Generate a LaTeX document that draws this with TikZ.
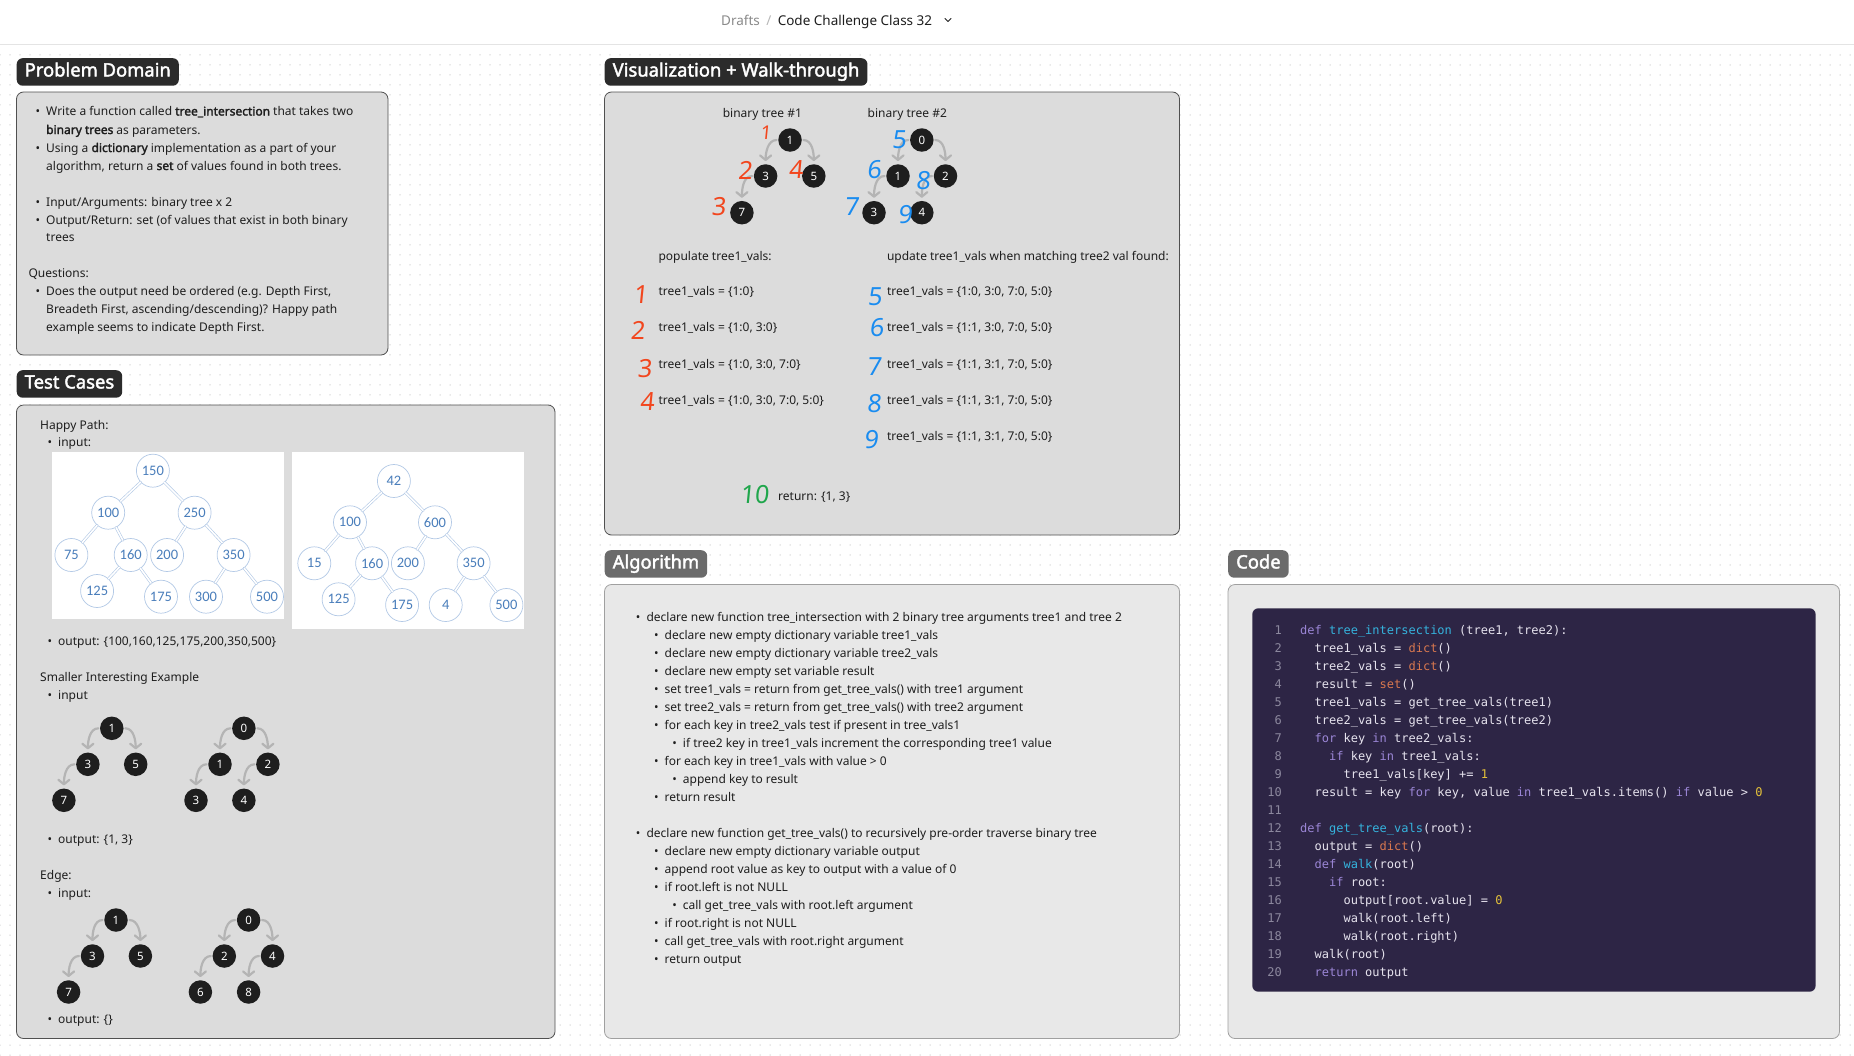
\documentclass[tikz,border=0pt]{standalone}
\usepackage{fontspec}
\setmainfont{Noto Sans}[BoldFont=Noto Sans, BoldFeatures={FakeBold=2.2}]
\setmonofont{DejaVu Sans Mono}
\newfontfamily\cctreefont{Carlito}
\newfontfamily\cchandfont[FakeSlant=0.1]{Noto Sans}
\usetikzlibrary{arrows.meta,patterns.meta,positioning}
\definecolor{ccInk}{HTML}{1E1E1E}
\definecolor{ccMuted}{HTML}{8A8A8A}
\definecolor{ccBar}{HTML}{E4E4E4}
\definecolor{ccDot}{HTML}{D4D4D4}
\definecolor{ccPanel}{HTML}{DCDCDC}
\definecolor{ccPanelLine}{HTML}{505050}
\definecolor{ccSoft}{HTML}{E8E8E8}
\definecolor{ccSoftLine}{HTML}{A0A0A0}
\definecolor{ccPill}{HTML}{2B2B2B}
\definecolor{ccPillSoft}{HTML}{6B6B6B}
\definecolor{ccArrow}{HTML}{B4B4B4}
\definecolor{ccNode}{HTML}{1E1E1E}
\definecolor{ccTreeLine}{HTML}{B3C9E6}
\definecolor{ccTreeText}{HTML}{4A7EBB}
\definecolor{ccRed}{HTML}{F2461E}
\definecolor{ccBlue}{HTML}{1A8CF0}
\definecolor{ccGreen}{HTML}{1FA64B}
\definecolor{ccCodeBg}{HTML}{2D2545}
\definecolor{ccCode}{HTML}{E6E3EE}
\definecolor{ccKey}{HTML}{9B86D6}
\definecolor{ccFun}{HTML}{35B3DD}
\definecolor{ccBuiltin}{HTML}{D9784F}
\definecolor{ccNum}{HTML}{E5C23A}
\definecolor{ccLineNo}{HTML}{8C889E}
\newcommand\ccbul{\llap{\textbullet\hspace{6pt}}}
\newcommand\cckw[1]{\textcolor{ccKey}{#1}}
\newcommand\ccfn[1]{\textcolor{ccFun}{#1}}
\newcommand\ccbi[1]{\textcolor{ccBuiltin}{#1}}
\newcommand\ccnum[1]{\textcolor{ccNum}{#1}}
\tikzset{
  cc board/.style={x=1pt, y=-1pt, font=\fontsize{12}{14}\selectfont, text=ccInk,
    line cap=round, line join=round},
  cc panel/.style={draw=ccPanelLine, fill=ccPanel, line width=0.8pt, rounded corners=7pt},
  cc soft panel/.style={cc panel, draw=ccSoftLine, fill=ccSoft},
  cc pill/.style={fill=ccPill, text=white, rounded corners=6pt, anchor=north west,
    font=\fontsize{18.4}{19}\selectfont\bfseries, text height=12.5pt, text depth=3.5pt,
    minimum height=27.5pt, inner xsep=8pt, inner ysep=0pt},
  cc soft pill/.style={cc pill, fill=ccPillSoft},
  cc text/.style={anchor=base west, inner sep=0pt},
  cc crumb/.style={cc text, font=\fontsize{13.5}{15}\selectfont},
  cc dot/.style={circle, fill=ccNode, text=white, minimum size=23.5pt, inner sep=0pt,
    font=\fontsize{11.5}{11.5}\selectfont},
  cc link/.style={draw=ccArrow, line width=2.2pt, shorten <=1.5pt, shorten >=3pt,
    -{Straight Barb[length=4.5pt,width=11pt,round]}},
  cc bst/.style={circle, draw=ccTreeLine, fill=white, line width=0.7pt, minimum size=33pt,
    inner sep=0pt, text=ccTreeText, font=\cctreefont\fontsize{14.5}{14.5}\selectfont},
  cc bst edge/.style={draw=ccTreeLine, double=white, double distance=1.6pt, line width=0.6pt},
  cc hand/.style={inner sep=0pt, font=\cchandfont\fontsize{25}{25}\selectfont},
  cc code/.style={anchor=base west, inner sep=0pt, text=ccCode,
    font=\ttfamily\fontsize{12}{12}\selectfont},
  cc lineno/.style={anchor=base east, inner sep=0pt, text=ccLineNo,
    font=\ttfamily\fontsize{12}{12}\selectfont}
}

\begin{document}
\begin{tikzpicture}[cc board]
\useasboundingbox (0,0) rectangle (1854,1055);
\fill[white] (0,0) rectangle (1854,1055);
\fill[pattern={Dots[distance=10pt,radius=0.75pt]}, pattern color=ccDot] (0,48) rectangle (1854,1055);
\draw[ccBar, line width=1pt] (0,44) -- (1854,44);

% breadcrumb
\node[cc crumb, text=ccMuted] (crumbA) at (721,25) {Drafts};
\node[cc crumb, text=ccBar!80!black, base right=6pt of crumbA] (crumbSep) {/};
\node[cc crumb, base right=6pt of crumbSep] (crumbB) {Code Challenge Class 32};
\coordinate (chev) at (948,20);
\draw[ccInk, line width=0.9pt] (chev) ++(-3,-1.5) -- ++(3,3) -- ++(3,-3);

% panels
\draw[cc panel] (16.5,92) rectangle (388,355);
\draw[cc panel] (16.5,405) rectangle (555,1038.5);
\draw[cc panel] (604.5,92) rectangle (1179.5,535);
\draw[cc soft panel] (604.5,584.5) rectangle (1179.5,1038.5);
\draw[cc soft panel] (1228,584.5) rectangle (1839.5,1038.5);

\node[cc pill] (pdHead) at (16.5,58) {Problem Domain};
\node[cc pill] (tcHead) at (16.5,370) {Test Cases};
\node[cc pill] (vzHead) at (604.5,58) {Visualization + Walk-through};
\node[cc soft pill] (alHead) at (604.5,550) {Algorithm};
\node[cc soft pill] (cdHead) at (1228,550) {Code};

% problem domain
\node[cc text] (pd1) at (46,115.5) {\ccbul Write a function called \textbf{tree\_intersection} that takes two};
\node[cc text] (pd2) at (46,134) {\textbf{binary trees} as parameters.};
\node[cc text] (pd3) at (46,152) {\ccbul Using a \textbf{dictionary} implementation as a part of your};
\node[cc text] (pd4) at (46,170) {algorithm, return a \textbf{set} of values found in both trees.};
\node[cc text] (pd5) at (46,206) {\ccbul Input/Arguments: binary tree x 2};
\node[cc text] (pd6) at (46,224) {\ccbul Output/Return: set (of values that exist in both binary};
\node[cc text] (pd7) at (46,241.5) {trees};
\node[cc text] (pd8) at (28.3,277.5) {Questions:};
\node[cc text] (pd9) at (46,295) {\ccbul Does the output need be ordered (e.g. Depth First,};
\node[cc text] (pd10) at (46,313.5) {Breadeth First, ascending/descending)? Happy path};
\node[cc text] (pd11) at (46,331) {example seems to indicate Depth First.};

% test cases
\node[cc text] (tcHappy) at (40,429) {Happy Path:};
\node[cc text] (tcIn1) at (58,446.5) {\ccbul input:};
\fill[white] (52,452) rectangle (284,619);
\fill[white] (292,452) rectangle (524,629);
\foreach \n/\x/\y in {150/152.9/470.7, 100/108.2/512.7, 250/194.6/512.7, 75/71.4/555,
    160/130.7/555, 200/167.1/555, 350/233.6/555, 125/97.1/591, 175/161/596.7,
    300/206/596.7, 500/267/596.7}
  \node[cc bst] (ha\n) at (\x,\y) {\n};
\foreach \n/\x/\y in {42/393.9/481, 100/350/522.3, 600/435/522.3, 15/314.3/563.3,
    160/372.1/563.3, 200/407.9/563.3, 350/473.6/563.3, 125/338.6/599.3, 175/402.1/605,
    4/445.7/605, 500/506.4/605}
  \node[cc bst] (hb\n) at (\x,\y) {\n};
\foreach \p/\c in {150/100, 150/250, 100/75, 100/160, 250/200, 250/350, 160/125, 160/175,
    350/300, 350/500}
  \draw[cc bst edge] (ha\p) -- (ha\c);
\foreach \p/\c in {42/100, 42/600, 100/15, 100/160, 600/200, 600/350, 160/125, 160/175,
    350/4, 350/500}
  \draw[cc bst edge] (hb\p) -- (hb\c);
\node[cc text] (tcOut1) at (58,645.5) {\ccbul output: \{100,160,125,175,200,350,500\}};
\node[cc text] (tcSmall) at (40,681.5) {Smaller Interesting Example};
\node[cc text] (tcIn2) at (58,699.5) {\ccbul input};
\node[cc text] (tcOut2) at (58,843.5) {\ccbul output: \{1, 3\}};
\node[cc text] (tcEdge) at (40,879.5) {Edge:};
\node[cc text] (tcIn3) at (58,897.5) {\ccbul input:};
\node[cc text] (tcOut3) at (58,1023.5) {\ccbul output: \{\}};

% small trees with curved links
\foreach \n/\v/\x/\y in {sa1/1/111.8/728.3, sa3/3/87.9/764.3, sa5/5/135.7/764.3, sa7/7/63.9/800.3,
    sb0/0/243.9/728.3, sb1/1/220/764.3, sb2/2/267.9/764.3, sb3/3/196/800.3, sb4/4/243.9/800.3,
    ea1/1/116/920, ea3/3/92.5/956, ea5/5/140.4/956, ea7/7/68.6/992,
    eb0/0/248.6/920, eb2/2/224.3/956, eb4/4/272.5/956, eb6/6/200.4/992, eb8/8/248.6/992,
    va1/1/790/140, va3/3/765.6/176, va5/5/813.8/176, va7/7/741.9/212.7,
    vb0/0/921.8/140, vb1/1/898/176, vb2/2/945.5/176, vb3/3/874/212.7, vb4/4/921.8/212.7}
  \node[cc dot] (\n) at (\x,\y) {\v};
\foreach \p/\c in {sa1/sa3, sa3/sa7, sb0/sb1, sb1/sb3, sb2/sb4, ea1/ea3, ea3/ea7, eb0/eb2,
    eb2/eb6, eb4/eb8, va1/va3, va3/va7, vb0/vb1, vb1/vb3, vb2/vb4}
  \draw[cc link] (\p.west) to[out=180,in=90] (\c.north);
\foreach \p/\c in {sa1/sa5, sb0/sb2, ea1/ea5, eb0/eb4, va1/va5, vb0/vb2}
  \draw[cc link] (\p.east) to[out=0,in=90] (\c.north);

% walk-through
\node[cc text, anchor=base] (vzT1) at (762.4,117.5) {binary tree \#1};
\node[cc text, anchor=base] (vzT2) at (907.3,117.5) {binary tree \#2};
\node[cc hand, text=ccRed, font=\cchandfont\fontsize{19}{19}\selectfont] (hr1) at (765.6,133) {1};
\node[cc hand, text=ccRed] (hr2) at (745,170) {2};
\node[cc hand, text=ccRed] (hr4) at (795.7,170) {4};
\node[cc hand, text=ccRed] (hr3) at (718.6,206.7) {3};
\node[cc hand, text=ccBlue] (hb5) at (899,140) {5};
\node[cc hand, text=ccBlue] (hb6) at (874,169.3) {6};
\node[cc hand, text=ccBlue] (hb8) at (923,180.7) {8};
\node[cc hand, text=ccBlue] (hb7) at (851.4,206.7) {7};
\node[cc hand, text=ccBlue] (hb9) at (904.9,215) {9};

\node[cc text] (vzPop) at (658.3,260) {populate tree1\_vals:};
\node[cc text] (vzUpd) at (886.8,260) {update tree1\_vals when matching tree2 val found:};
\foreach \y/\t [count=\i] in {295.7/{tree1\_vals = \{1:0\}}, 331.7/{tree1\_vals = \{1:0, 3:0\}},
    368/{tree1\_vals = \{1:0, 3:0, 7:0\}}, 404/{tree1\_vals = \{1:0, 3:0, 7:0, 5:0\}}}
  \node[cc text] (vzL\i) at (658.3,\y) {\t};
\foreach \y/\t [count=\i] in {295.7/{tree1\_vals = \{1:0, 3:0, 7:0, 5:0\}},
    331.7/{tree1\_vals = \{1:1, 3:0, 7:0, 5:0\}}, 368/{tree1\_vals = \{1:1, 3:1, 7:0, 5:0\}},
    404/{tree1\_vals = \{1:1, 3:1, 7:0, 5:0\}}, 440/{tree1\_vals = \{1:1, 3:1, 7:0, 5:0\}}}
  \node[cc text] (vzR\i) at (886.8,\y) {\t};
\foreach \v/\x/\y in {1/640.6/295, 2/637.6/330.7, 3/644.4/368.3, 4/647/401.7}
  \node[cc hand, text=ccRed] (lr\v) at (\x,\y) {\v};
\foreach \v/\x/\y in {5/874.7/296.7, 6/876.6/327.3, 7/874/366.7, 8/874/403.3, 9/871/439.3}
  \node[cc hand, text=ccBlue] (lb\v) at (\x,\y) {\v};
\node[cc hand, text=ccGreen] (lg10) at (754.3,495) {10};
\node[cc text] (vzRet) at (778,500) {return: \{1, 3\}};

% algorithm
\foreach \l/\y/\t [count=\i] in {
    1/621.7/{declare new function tree\_intersection with 2 binary tree arguments tree1 and tree 2},
    2/639.7/{declare new empty dictionary variable tree1\_vals},
    2/657.7/{declare new empty dictionary variable tree2\_vals},
    2/675.7/{declare new empty set variable result},
    2/693.7/{set tree1\_vals = return from get\_tree\_vals() with tree1 argument},
    2/711.7/{set tree2\_vals = return from get\_tree\_vals() with tree2 argument},
    2/729.7/{for each key in tree2\_vals test if present in tree\_vals1},
    3/747.7/{if tree2 key in tree1\_vals increment the corresponding tree1 value},
    2/765.7/{for each key in tree1\_vals with value > 0},
    3/783.7/{append key to result},
    2/801.7/{return result},
    1/837.5/{declare new function get\_tree\_vals() to recursively pre-order traverse binary tree},
    2/855.7/{declare new empty dictionary variable output},
    2/873.7/{append root value as key to output with a value of 0},
    2/891.7/{if root.left is not NULL},
    3/909.7/{call get\_tree\_vals with root.left argument},
    2/927.5/{if root.right is not NULL},
    2/945.7/{call get\_tree\_vals with root.right argument},
    2/963.5/{return output}}
  \node[cc text] (al\i) at ({646.3+18.2*(\l-1)},\y) {\ccbul\t};

% code
\fill[ccCodeBg, rounded corners=6pt] (1252.3,608.3) rectangle (1815.6,991.7);
\foreach \t [count=\n] in {
    {\cckw{def} \ccfn{tree\_intersection} (tree1, tree2):},
    {\ \ tree1\_vals = \ccbi{dict}()},
    {\ \ tree2\_vals = \ccbi{dict}()},
    {\ \ result = \ccbi{set}()},
    {\ \ tree1\_vals = get\_tree\_vals(tree1)},
    {\ \ tree2\_vals = get\_tree\_vals(tree2)},
    {\ \ \cckw{for} key \cckw{in} tree2\_vals:},
    {\ \ \ \ \cckw{if} key \cckw{in} tree1\_vals:},
    {\ \ \ \ \ \ tree1\_vals[key] += \ccnum{1}},
    {\ \ result = key \cckw{for} key, value \cckw{in} tree1\_vals.items() \cckw{if} value > \ccnum{0}},
    {},
    {\cckw{def} \ccfn{get\_tree\_vals}(root):},
    {\ \ output = \ccbi{dict}()},
    {\ \ \cckw{def} \ccfn{walk}(root)},
    {\ \ \ \ \cckw{if} root:},
    {\ \ \ \ \ \ output[root.value] = \ccnum{0}},
    {\ \ \ \ \ \ walk(root.left)},
    {\ \ \ \ \ \ walk(root.right)},
    {\ \ walk(root)},
    {\ \ \cckw{return} output}} {
  \node[cc lineno] (ln\n) at (1282,{634+18*(\n-1)}) {\n};
  \node[cc code] (cl\n) at (1300,{634+18*(\n-1)}) {\t};
}
\end{tikzpicture}
\end{document}
